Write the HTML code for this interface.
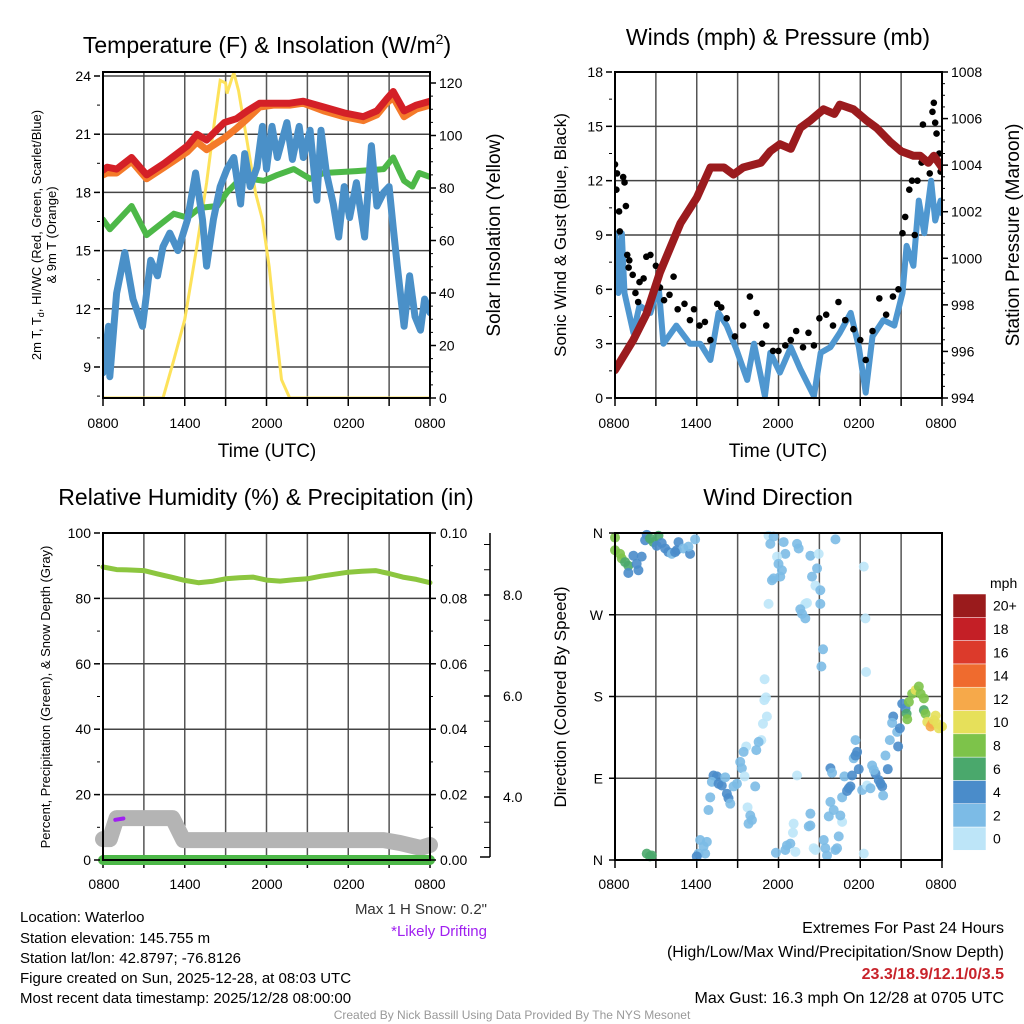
<!DOCTYPE html>
<html><head><meta charset="utf-8"><style>
html,body{margin:0;padding:0;background:#fff;}
svg{display:block;font-family:"Liberation Sans",Arial,sans-serif;}
</style></head><body>
<svg id="chart" width="1024" height="1024" viewBox="0 0 1024 1024" xmlns="http://www.w3.org/2000/svg">
<rect x="0" y="0" width="1024" height="1024" fill="#fff"/>
<g id="layer"></g>
<!-- titles -->
<text x="267" y="53" font-size="23" text-anchor="middle">Temperature (F) &amp; Insolation (W/m<tspan dy="-9" font-size="14">2</tspan><tspan dy="9">)</tspan></text>
<text x="778" y="45" font-size="23" text-anchor="middle">Winds (mph) &amp; Pressure (mb)</text>
<text x="266" y="505" font-size="23" text-anchor="middle">Relative Humidity (%) &amp; Precipitation (in)</text>
<text x="778" y="505" font-size="23" text-anchor="middle">Wind Direction</text>
<!-- axis titles -->
<text transform="translate(41,235) rotate(-90)" font-size="13" text-anchor="middle">2m T, T<tspan font-size="9" dy="3">d</tspan><tspan dy="-3">, HI/WC (Red, Green, Scarlet/Blue)</tspan></text>
<text transform="translate(56,235) rotate(-90)" font-size="13" text-anchor="middle">&amp; 9m T (Orange)</text>
<text transform="translate(500,235) rotate(-90)" font-size="19" text-anchor="middle">Solar Insolation (Yellow)</text>
<text x="267" y="457" font-size="19" text-anchor="middle">Time (UTC)</text>
<text transform="translate(566,235) rotate(-90)" font-size="17" text-anchor="middle">Sonic Wind &amp; Gust (Blue, Black)</text>
<text transform="translate(1019,235) rotate(-90)" font-size="19" text-anchor="middle">Station Pressure (Maroon)</text>
<text x="778" y="457" font-size="19" text-anchor="middle">Time (UTC)</text>
<text transform="translate(50,697) rotate(-90)" font-size="13" text-anchor="middle">Percent, Precipitation (Green), &amp; Snow Depth (Gray)</text>
<text transform="translate(566,697) rotate(-90)" font-size="17" text-anchor="middle">Direction (Colored By Speed)</text>
<!-- bottom text -->
<text x="487" y="914" font-size="15" text-anchor="end" fill="#333">Max 1 H Snow: 0.2"</text>
<text x="487" y="936" font-size="15" text-anchor="end" fill="#a020f0">*Likely Drifting</text>
<g font-size="15">
<text x="20" y="922">Location: Waterloo</text>
<text x="20" y="943">Station elevation: 145.755 m</text>
<text x="20" y="963">Station lat/lon: 42.8797; -76.8126</text>
<text x="20" y="983">Figure created on Sun, 2025-12-28, at 08:03 UTC</text>
<text x="20" y="1003">Most recent data timestamp: 2025/12/28 08:00:00</text>
</g>
<g font-size="16" text-anchor="end">
<text x="1004" y="933">Extremes For Past 24 Hours</text>
<text x="1004" y="957">(High/Low/Max Wind/Precipitation/Snow Depth)</text>
<text x="1004" y="979" fill="#c8232b" font-weight="bold">23.3/18.9/12.1/0/3.5</text>
<text x="1004" y="1003">Max Gust: 16.3 mph On 12/28 at 0705 UTC</text>
</g>
<text x="512" y="1019" font-size="12" fill="#999" text-anchor="middle">Created By Nick Bassill Using Data Provided By The NYS Mesonet</text>
<text x="990" y="588" font-size="14">mph</text>
</svg>
<script>
// ---- Panel 1 data (hours since 0800 UTC) ----
const tRed=[0,0.3,1,2.1,3.2,4.5,6.2,6.9,7.6,8.9,9.8,10.6,11.5,12.5,13.7,14.7,16.2,17.7,19.1,20.1,20.8,21.3,22.1,23.0,24];
const vRed=[19.15,19.3,19.2,19.8,18.9,19.5,20.4,21.0,20.7,21.6,21.8,22.2,22.6,22.6,22.6,22.7,22.4,22.1,21.9,22.2,22.8,23.2,22.2,22.5,22.7];
const tOrange=[0,0.3,1,2.1,3.2,4.5,6.2,6.9,7.6,8.9,9.8,10.6,11.5,12.5,13.7,14.7,16.2,17.7,19.1,20.1,20.8,21.3,22.1,23.0,24];
const vOrange=[18.9,19.0,19.0,19.6,18.7,19.3,20.1,20.6,20.2,20.8,21.3,21.8,22.4,22.5,22.5,22.6,22.2,21.9,21.7,22.0,22.6,22.9,21.9,22.3,22.5];
const tGreen=[0,0.5,2.1,3.2,5.2,6.2,7.1,8.4,9.1,9.8,10.8,11.8,12.8,14.0,15.2,16.2,18.6,20.6,21.3,22.1,22.7,23.2,24];
const vGreen=[16.6,16.1,17.3,15.8,16.9,16.7,17.2,17.3,18.0,18.5,18.7,18.6,18.9,19.2,18.7,19.0,19.1,19.2,19.8,18.6,18.3,19.0,18.8];
const tBlue=[0,0.4,0.5,1.0,1.6,2.2,2.9,3.5,4.0,4.4,4.9,5.5,6.2,6.8,7.3,7.6,8.1,8.6,9.1,9.6,10.1,10.4,10.8,11.3,11.7,12.0,12.4,12.8,13.5,13.9,14.4,14.7,15.2,15.7,16.0,16.4,16.9,17.3,17.7,18.1,18.6,19.2,19.7,20.1,20.6,21.0,21.3,21.6,22.1,22.5,22.9,23.3,23.6,24];
const vBlue=[8.7,11.1,8.5,12.8,14.9,12.5,11.1,14.5,13.7,15.2,15.9,15.0,16.6,19.0,16.6,14.2,16.6,18.3,19.2,19.8,17.4,20.0,18.3,19.3,21.4,19.2,21.4,19.8,21.6,19.7,21.4,19.8,21.2,17.6,21.2,19.0,17.4,15.7,18.3,16.7,18.5,15.7,20.4,17.3,18.0,18.3,16.2,14.2,11.1,13.7,11.6,10.9,12.5,11.8];
const tSun=[0,4.4,5.2,6.0,6.9,7.6,8.2,8.6,9.0,9.1,9.6,9.95,10.6,11.2,11.7,12.2,12.6,13.1,13.7,24];
const vSun=[0,0,14.6,30,58,82,106,121,120,116,124,117,97,78,68,50,30,7,0,0];
const tempTicks=[9,12,15,18,21,24];
const sunTicks=[0,20,40,60,80,100,120];
const timeLabels=["0800","1400","2000","0200","0800"];
// ---- Panel 2 data ----
const tPres=[0,1.35,2.3,3.3,4.8,6.0,7.0,8.0,8.7,9.4,10.7,11.4,12.1,12.9,13.6,14.3,15.3,16.1,16.5,17.5,18.5,19.2,20.2,21.0,21.9,22.4,23.0,23.4,24];
const vPres=[995.2,996.5,997.6,999.4,1001.5,1002.6,1003.9,1003.9,1003.6,1003.9,1004.1,1004.6,1004.9,1004.7,1005.6,1005.9,1006.4,1006.2,1006.6,1006.4,1005.9,1005.6,1005.0,1004.6,1004.4,1004.4,1004.1,1004.4,1003.9];
const tWind=[0,0.25,0.5,0.7,1.35,1.8,2.6,3.2,3.55,4.5,5.5,6.25,7.0,7.6,8.2,8.9,9.7,10.2,10.7,11.0,11.4,12.1,12.9,13.6,14.6,15.1,15.8,16.5,17.3,17.9,18.4,18.9,19.7,20.5,21.1,21.4,21.9,22.3,22.7,23.2,23.5,23.9,24];
const vWind=[9.1,5.8,9.1,5.8,3.6,5.1,4.7,6.2,3.0,4.0,3.0,3.0,2.1,4.7,4.0,2.7,1.0,3.0,1.2,0.1,2.5,1.4,2.8,1.6,0.1,2.5,2.8,3.6,4.7,2.8,0.3,3.4,4.3,4.0,5.8,8.4,7.3,10.9,9.1,12.0,9.8,10.9,10.2];
const tGust=[0,0.1,0.15,0.3,0.35,0.6,0.7,0.8,0.9,1.0,1.05,1.3,1.5,1.7,1.8,2.1,2.3,2.6,3.0,3.3,3.6,4.0,4.3,4.6,5.1,5.5,5.8,6.2,6.6,7.0,7.5,7.8,8.2,8.8,9.4,9.9,10.4,10.8,11.1,11.6,12.0,12.5,12.9,13.3,13.8,14.2,14.6,15.0,15.5,16.0,16.4,16.9,17.5,18.0,18.4,18.9,19.4,19.9,20.4,20.8,21.1,21.3,21.6,21.8,22.0,22.2,22.5,22.6,22.9,23.1,23.3,23.4,23.5,23.6,23.8,23.9,24];
const vGust=[12.9,11.5,12.4,10.3,9.2,12.2,11.9,10.6,7.9,7.2,7.6,6.8,5.8,5.3,6.4,6.6,7.8,7.9,7.3,6.1,5.4,5.7,6.7,4.9,5.2,4.3,4.9,4.0,4.2,3.2,5.2,5.0,4.4,3.4,4.0,5.6,4.7,3.0,4.0,2.6,2.6,2.9,3.2,3.7,2.8,3.6,2.9,4.4,4.6,4.0,5.3,4.3,3.8,3.2,2.1,3.7,5.5,4.6,5.6,6.0,9.1,10.0,11.5,12.0,9.0,12.0,13.0,15.1,13.0,12.4,15.8,16.3,15.2,14.6,13.5,12.5,12.8];
const windTicks=[0,3,6,9,12,15,18];
const presTicks=[994,996,998,1000,1002,1004,1006,1008];
// ---- Panel 3 data ----
const tRH=[0,1,2,3,4,5,6,7,8,9,10,11,12,13,14,15,16,17,18,19,20,21,22,23,24];
const vRH=[89.6,88.8,88.7,88.5,87.5,86.5,85.5,84.8,85.2,86.0,86.3,86.5,85.6,85.3,85.7,86.0,86.8,87.4,88.0,88.3,88.5,87.6,86.5,85.8,84.8];
const tSnow=[0,0.5,1.0,5.1,5.9,20.6,21.8,23.3,24];
const vSnow=[6.4,6.4,12.8,12.8,6.1,6.1,5.2,3.7,4.6];
const tPrecip=[0,24];
const vPrecip=[0,0];
const tDrift=[0.9,1.5];
const vDrift=[12.3,12.7];
const rhTicks=[0,20,40,60,80,100];
const precipTicks=["0.00","0.02","0.04","0.06","0.08","0.10"];
const snowTicks=[4.0,6.0,8.0];
// ---- Panel 4 data ----
const tDir=[0.0,0.0,0.37,0.49,0.74,0.98,0.98,1.35,1.72,1.96,1.59,2.33,2.21,2.57,2.82,3.19,3.06,3.68,3.92,4.17,4.66,4.53,5.02,5.51,5.39,5.88,4.41,3.43,2.33,2.70,2.57,
11.27,11.64,11.4,12.38,12.5,11.89,12.0,12.25,12.13,11.52,11.64,11.27,13.36,13.48,14.34,14.95,14.83,14.46,14.71,15.07,13.97,14.09,13.6,13.73,13.97,15.07,16.18,18.26,18.38,15.27,15.15,18.43,
10.98,10.96,11.08,11.15,10.86,10.74,10.54,10.37,9.63,9.44,9.19,9.31,9.51,10.29,8.95,8.7,7.23,7.48,7.11,7.6,7.84,8.09,8.21,8.33,8.46,6.99,6.86,9.73,9.93,10.05,9.8,6.25,6.74,6.5,6.13,6.62,6.0,
11.81,12.62,12.87,12.5,13.24,13.11,13.06,14.34,14.34,14.22,14.58,14.71,15.32,15.44,15.56,16.18,16.3,16.42,16.67,16.54,16.05,15.81,15.69,16.67,16.84,17.16,17.03,17.28,17.4,17.52,17.65,17.77,17.65,17.89,15.81,15.93,18.14,18.5,18.75,18.87,19.12,19.36,19.49,19.61,19.68,19.0,19.85,20.02,20.17,20.42,20.34,20.71,20.78,20.91,21.08,21.32,21.4,21.45,21.57,21.81,22.06,22.3,22.43,22.67,22.67,22.79,22.92,23.16,23.28,23.4,23.65,23.77,23.53,24.0,18.26,13.36];
const vDir=[355,341,337,332,328,324,316,335,319,334,326,358,352,354,350,357,346,343,339,337,350,341,343,337,345,353,339,349,7,5,4,
357,356,348,350,337,334,326,319,312,308,310,282,348,343,335,337,321,312,302,297,282,283,276,271,266,282,353,323,266,232,213,207,
199,176,179,158,150,132,130,121,125,119,108,101,92,81,84,81,93,92,86,84,82,91,73,68,62,69,55,58,49,44,40,22,20,15,7,7,4,
8,16,18,11,9,40,30,51,38,37,13,11,22,13,5,11,13,26,42,49,55,64,48,69,92,79,76,81,93,112,115,119,132,100,101,96,77,82,79,104,95,88,84,81,71,99,115,100,132,158,151,141,125,145,172,167,161,155,174,183,187,191,183,178,165,161,152,147,150,154,150,145,159,147,7,93];
const vSpd=[8,8,8,8,6,6,4,4,4,4,4,4,4,6,6,6,4,4,4,3,4,4,3,4,3,3,4,4,6,6,6,
1,2,2,2,2,1,2,2,2,2,2,1,2,2,2,1,2,2,1,3,1,1,2,2,2,3,2,1,1,3,3,1,
1,1,1,1,1,1,2,2,1,2,2,2,1,3,2,2,4,4,2,4,4,2,4,4,2,2,2,1,2,2,2,2,2,2,2,2,4,
2,2,2,2,1,1,1,2,2,2,1,1,2,2,2,2,2,2,1,2,2,2,2,2,2,4,4,4,4,2,4,4,2,4,4,2,2,1,2,2,4,4,4,4,2,2,2,4,2,4,2,2,4,4,4,4,6,8,8,8,10,8,8,8,6,8,10,12,12,10,10,10,10,10,1,1];
const dirLabels=["N","E","S","W","N"];
const speedLabels=["0","2","4","6","8","10","12","14","16","18","20+"];
const speedColors=["#bde5f8","#7cbbe6","#4a8cca","#4aa86c","#7dc34a","#e6e05a","#f6a94a","#ef6b2e","#dc3a2b","#c41f26","#9a1b1c"];

const NS="http://www.w3.org/2000/svg";
const layer=document.getElementById('layer');
function el(tag,attrs,parent){const e=document.createElementNS(NS,tag);for(const k in attrs)e.setAttribute(k,attrs[k]);(parent||layer).appendChild(e);return e;}
function pathD(ts,vs,sx,sy){let d="";for(let i=0;i<ts.length;i++){d+=(i?"L":"M")+sx(ts[i]).toFixed(1)+","+sy(vs[i]).toFixed(1);}return d;}

function frame(x0,y0,x1,y1,xlabels,labelXs,labelY,name){
  const g=el('g',{});
  
  
  for(let i=1;i<8;i++){const x=x0+i*(x1-x0)/8;const l=el('line',{x1:x,y1:y0,x2:x,y2:y1,stroke:'#555','stroke-width':1.5},g);
    
    }
  for(let i=0;i<=8;i++){const x=x0+i*(x1-x0)/8;el('line',{x1:x,y1:y1,x2:x,y2:y1+8,stroke:'#000','stroke-width':1.5},g);}
  xlabels.forEach((s,i)=>{const t=el('text',{x:labelXs[i],y:labelY,'font-size':14,'text-anchor':'middle'},g);t.textContent=s;
    
    });
  return g;
}
function hgrid(g,ys,x0,x1){ys.forEach(y=>{const l=el('line',{x1:x0,y1:y,x2:x1,y2:y,stroke:'#444','stroke-width':1.5},g);
  
  });}
function border(x0,y0,x1,y1,name){const r=el('rect',{x:x0,y:y0,width:x1-x0,height:y1-y0,fill:'none',stroke:'#000','stroke-width':2});
  
  }
function ticksLeft(vals,sy,x,fmt,minorStep,lo,hi){vals.forEach(v=>{el('line',{x1:x-6,y1:sy(v),x2:x,y2:sy(v),stroke:'#000','stroke-width':1.5});const t=el('text',{x:x-9,y:sy(v)+5,'font-size':14,'text-anchor':'end'});t.textContent=fmt(v);
  
  });
  if(minorStep){for(let v=lo;v<=hi+1e-6;v+=minorStep)el('line',{x1:x-3,y1:sy(v),x2:x,y2:sy(v),stroke:'#000','stroke-width':1});}}
function ticksRight(vals,sy,x,fmt,minorStep,lo,hi){vals.forEach(v=>{el('line',{x1:x,y1:sy(v),x2:x+6,y2:sy(v),stroke:'#000','stroke-width':1.5});const t=el('text',{x:x+9,y:sy(v)+5,'font-size':14,'text-anchor':'start'});t.textContent=fmt(v);
  
  });
  if(minorStep){for(let v=lo;v<=hi+1e-6;v+=minorStep)el('line',{x1:x,y1:sy(v),x2:x+3,y2:sy(v),stroke:'#000','stroke-width':1});}}

// ===== Panel 1 =====
(function(){
  const x0=103,x1=430,y0=72,y1=398;
  const sx=t=>x0+t*(x1-x0)/24, sy=v=>76+(24-v)*58.2/3, sr=v=>y1-v*2.625;
  const g=frame(x0,y0,x1,y1,timeLabels,[103,185,267,349,430],428,'temperature');
  hgrid(g,tempTicks.map(sy),x0,x1);
  const clip=el('clipPath',{id:'c1'});el('rect',{x:x0,y:y0,width:x1-x0,height:y1-y0},clip);
  const p=el('g',{'clip-path':'url(#c1)'});
  let e;
  e=el('path',{d:pathD(tSun,vSun,sx,sr),fill:'none',stroke:'#fde25a','stroke-width':3},p);
  
  
  e=el('path',{d:pathD(tGreen,vGreen,sx,sy),fill:'none',stroke:'#4db848','stroke-width':6,'stroke-linejoin':'round','stroke-linecap':'round'},p);
  
  
  e=el('path',{d:pathD(tBlue,vBlue,sx,sy),fill:'none',stroke:'#4a90c8','stroke-width':7,'stroke-linejoin':'round','stroke-linecap':'round'},p);
  
  
  e=el('path',{d:pathD(tOrange,vOrange,sx,sy),fill:'none',stroke:'#f47a2a','stroke-width':7,'stroke-linejoin':'round','stroke-linecap':'round'},p);
  
  
  e=el('path',{d:pathD(tRed,vRed,sx,sy),fill:'none',stroke:'#d42027','stroke-width':7,'stroke-linejoin':'round','stroke-linecap':'round'},p);
  
  
  border(x0,y0,x1,y1,'temperature');
  ticksLeft(tempTicks,sy,x0-3,v=>String(v),1.5,7.5,24);
  ticksRight(sunTicks,sr,x1,v=>String(v),5,0,120);
})();

// ===== Panel 2 =====
(function(){
  const x0=615,x1=942,y0=72,y1=398;
  const sx=t=>x0+t*(x1-x0)/24, sy=v=>y1-v*(y1-y0)/18, sp=v=>y1-(v-994)*(y1-y0)/14;
  const g=frame(x0,y0,x1,y1,timeLabels,[614,696,778,859,941],428,'winds');
  hgrid(g,windTicks.map(sy),x0,x1);
  const clip=el('clipPath',{id:'c2'});el('rect',{x:x0,y:y0-2,width:x1-x0,height:y1-y0+4},clip);
  const p=el('g',{'clip-path':'url(#c2)'});
  let e=el('path',{d:pathD(tWind,vWind,sx,sy),fill:'none',stroke:'#4f97d0','stroke-width':6,'stroke-linejoin':'round','stroke-linecap':'round'},p);
  
  
  tGust.forEach((t,i)=>{const c=el('circle',{cx:sx(t),cy:sy(vGust[i]),r:3.3,fill:'#000'},p);
    
    });
  e=el('path',{d:pathD(tPres,vPres,sx,sp),fill:'none',stroke:'#9b1b1e','stroke-width':8,'stroke-linejoin':'round','stroke-linecap':'round'},p);
  
  
  border(x0,y0,x1,y1,'winds');
  ticksLeft(windTicks,sy,x0-3,v=>String(v),1.5,0,18);
  ticksRight(presTicks,sp,x1,v=>String(v),0.5,994,1008);
})();

// ===== Panel 3 =====
(function(){
  const x0=103,x1=430,y0=533,y1=860;
  const sx=t=>x0+t*(x1-x0)/24, sy=v=>y1-v*(y1-y0)/100;
  const g=frame(x0,y0,x1,y1,timeLabels,[104,185,267,349,430],889,'humidity');
  hgrid(g,rhTicks.map(sy),x0,x1);
  let e=el('path',{d:pathD(tSnow,vSnow,sx,sy),fill:'none',stroke:'#b4b4b4','stroke-width':16,'stroke-linejoin':'round','stroke-linecap':'round'});
  
  
  e=el('path',{d:pathD(tDrift,vDrift,sx,sy),fill:'none',stroke:'#a020f0','stroke-width':4,'stroke-linecap':'round'});
  
  
  e=el('path',{d:pathD(tPrecip,vPrecip,sx,sy),fill:'none',stroke:'#4db848','stroke-width':10,'stroke-linecap':'round'});
  
  
  e=el('path',{d:pathD(tRH,vRH,sx,sy),fill:'none',stroke:'#8cc63f','stroke-width':5,'stroke-linejoin':'round','stroke-linecap':'round'});
  
  
  border(x0,y0,x1,y1,'humidity');
  ticksLeft(rhTicks,sy,x0-3,v=>String(v),10,0,100);
  precipTicks.forEach((s,i)=>{const y=sy(rhTicks[i]);el('line',{x1:x1,y1:y,x2:x1+6,y2:y,stroke:'#000','stroke-width':1.5});
    const t=el('text',{x:x1+10,y:y+5,'font-size':14});t.textContent=s;
    
    });
  for(let v=0;v<=100;v+=10)el('line',{x1:x1,y1:sy(v),x2:x1+3,y2:sy(v),stroke:'#000','stroke-width':1});
  // snow depth axis
  const ss=v=>797-(v-4)*50.5;
  const ax=el('line',{x1:490,y1:533,x2:490,y2:857,stroke:'#000','stroke-width':1.5});
  
  
  for(let v=2.5;v<=9.5;v+=0.5){const y=ss(v);if(y>=533&&y<=858)el('line',{x1:484,y1:y,x2:490,y2:y,stroke:'#000','stroke-width':Number.isInteger(v/2)?1.5:1});}
  el('line',{x1:480,y1:857,x2:490,y2:857,stroke:'#000','stroke-width':1.5});
  snowTicks.forEach(v=>{const t=el('text',{x:503,y:ss(v)+5,'font-size':14});t.textContent=v.toFixed(1);
    
    });
})();

// ===== Panel 4 =====
(function(){
  const x0=615,x1=942,y0=533,y1=860;
  const sx=t=>x0+t*(x1-x0)/24, sy=d=>y1-d*(y1-y0)/360;
  const g=frame(x0,y0,x1,y1,timeLabels,[614,696,778,859,941],889,'direction');
  hgrid(g,[0,90,180,270,360].map(sy),x0,x1);
  tDir.forEach((t,i)=>{const bin=Math.min(10,Math.floor(vSpd[i]/2));
    const c=el('circle',{cx:sx(t),cy:sy(vDir[i]),r:5,fill:speedColors[bin],'fill-opacity':0.9});
    
    });
  border(x0,y0,x1,y1,'direction');
  [0,90,180,270,360].forEach((d,i)=>{el('line',{x1:x0-6,y1:sy(d),x2:x0,y2:sy(d),stroke:'#000','stroke-width':1.5});
    const t=el('text',{x:x0-12,y:sy(d)+5,'font-size':14,'text-anchor':'end'});t.textContent=dirLabels[i];
    
    });
  // colorbar
  const h=23.3, top=594;
  speedLabels.forEach((s,i)=>{const y=top+(10-i)*h;
    const r=el('rect',{x:953,y:y,width:33,height:h,fill:speedColors[i],stroke:'#fff','stroke-width':0.5});
    
    
    const t=el('text',{x:993,y:y+h/2+5,'font-size':14});t.textContent=s;
    
    });
})();
</script>
</body></html>
